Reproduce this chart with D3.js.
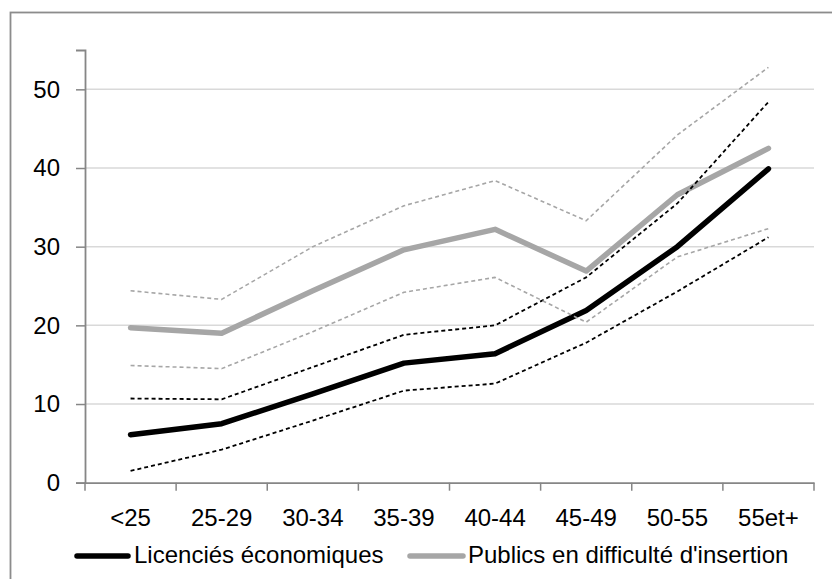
<!DOCTYPE html>
<html>
<head>
<meta charset="utf-8">
<script src="https://cdn.jsdelivr.net/npm/d3@7"></script>
<style>
  html, body { margin: 0; padding: 0; background: #fff; }
  svg { display: block; }
  text { font-family: "Liberation Sans", Arial, sans-serif; fill: #000; }
</style>
</head>
<body>
<svg id="chart" width="832" height="579"></svg>
<script>
const categories = ["<25", "25-29", "30-34", "35-39", "40-44", "45-49", "50-55", "55et+"];
const licencies     = [6.1, 7.5, 11.3, 15.2, 16.4, 21.9, 30.0, 39.9];
const licenciesHigh = [10.7, 10.6, 14.7, 18.8, 20.0, 26.1, 35.5, 48.4];
const licenciesLow  = [1.5, 4.2, 7.9, 11.7, 12.6, 17.8, 24.3, 31.2];
const publics       = [19.7, 19.0, 24.4, 29.6, 32.2, 26.9, 36.6, 42.5];
const publicsHigh   = [24.4, 23.3, 30.0, 35.2, 38.4, 33.3, 44.2, 52.8];
const publicsLow    = [14.9, 14.5, 19.2, 24.2, 26.1, 20.4, 28.7, 32.3];
const yTicks = [0, 10, 20, 30, 40, 50];
const seriesNames = ["Licenciés économiques", "Publics en difficulté d'insertion"];

const svg = d3.select("#chart");
const fontSize = 24;

// outer chart border (cropped at right and bottom)
svg.append("rect").attr("x", 10.5).attr("y", 12.5).attr("width", 900).attr("height", 700)
  .attr("fill", "none").attr("stroke", "#8c8c8c").attr("stroke-width", 1.8);

const x = d3.scaleBand().domain(categories).range([85, 814]).padding(0);
const y = d3.scaleLinear().domain([0, 55]).range([482.7, 50]);
const cx = c => x(c) + x.bandwidth() / 2;

// gridlines
svg.append("g").selectAll("line").data(yTicks.filter(d => d > 0)).join("line")
  .attr("x1", 85).attr("x2", 814)
  .attr("y1", d => y(d)).attr("y2", d => y(d))
  .attr("stroke", "#d9d9d9").attr("stroke-width", 1.5);

// y axis
const yAxis = svg.append("g").attr("transform", "translate(85,0)")
  .call(d3.axisLeft(y).tickValues(yTicks).tickSize(9).tickPadding(16));
yAxis.select(".domain").attr("stroke", "#868686").attr("stroke-width", 1.8);
yAxis.selectAll(".tick line").attr("stroke", "#868686").attr("stroke-width", 1.5);
yAxis.selectAll(".tick text").attr("font-size", fontSize).attr("font-family", "Liberation Sans, Arial, sans-serif");

// x axis
const xAxis = svg.append("g").attr("transform", `translate(0,${y(0)})`)
  .call(d3.axisBottom(x).tickSize(0).tickSizeOuter(0));
xAxis.select(".domain").attr("stroke", "#868686").attr("stroke-width", 1.8);
xAxis.selectAll(".tick text").attr("font-size", fontSize)
  .attr("font-family", "Liberation Sans, Arial, sans-serif")
  .attr("y", 43).attr("dy", 0);
xAxis.append("g").selectAll("line").data(categories.map(c => x(c)).concat([x.range()[1]])).join("line")
  .attr("x1", d => d).attr("x2", d => d).attr("y1", 0).attr("y2", 8)
  .attr("stroke", "#868686").attr("stroke-width", 1.5);

const line = d3.line().x((d, i) => cx(categories[i])).y(d => y(d));

function drawLine(values, color, width, dash) {
  svg.append("path").datum(values)
    .attr("d", line)
    .attr("fill", "none")
    .attr("stroke", color)
    .attr("stroke-width", width)
    .attr("stroke-linejoin", "round")
    .attr("stroke-linecap", dash ? "butt" : "round")
    .attr("stroke-dasharray", dash || null);
}

drawLine(licencies, "#000000", 5.5, null);
drawLine(publics, "#a6a6a6", 5.5, null);
drawLine(licenciesHigh, "#000000", 1.8, "4,3");
drawLine(licenciesLow, "#000000", 1.8, "4,3");
drawLine(publicsHigh, "#a6a6a6", 1.6, "4,3");
drawLine(publicsLow, "#a6a6a6", 1.6, "4,3");

// legend
const legend = [
  { name: seriesNames[0], color: "#000000", x1: 77, x2: 128, tx: 134 },
  { name: seriesNames[1], color: "#a6a6a6", x1: 410, x2: 463, tx: 468 }
];
const lg = svg.append("g");
legend.forEach(l => {
  lg.append("line").attr("x1", l.x1).attr("x2", l.x2).attr("y1", 556).attr("y2", 556)
    .attr("stroke", l.color).attr("stroke-width", 5.5).attr("stroke-linecap", "round");
  lg.append("text").attr("x", l.tx).attr("y", 563).attr("font-size", fontSize).text(l.name);
});
</script>
</body>
</html>
